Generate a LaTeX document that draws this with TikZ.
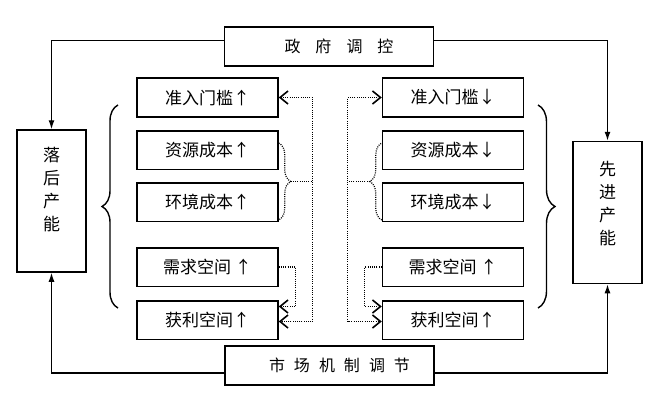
\documentclass[tikz,border=0pt]{standalone}
\usepackage{fontspec}
\setmainfont{Noto Sans CJK SC}
\usetikzlibrary{arrows.meta, positioning, calc, decorations.pathreplacing}

\tikzset{
  smallbox/.style={draw, line width=1.5pt, minimum width=141pt, minimum height=38.5pt, inner sep=0pt, font=\fontsize{17}{20}\selectfont},
  sidebox/.style={draw, line width=1.5pt, minimum width=69pt, minimum height=142pt, inner sep=0pt},
  sidetext/.style={font=\fontsize{17}{23}\selectfont, align=center},
  ctrlbox/.style={draw, line width=1.5pt, minimum width=209pt, minimum height=39pt, inner sep=0pt, font=\fontsize{16}{19}\selectfont},
  mainline/.style={line width=1.3pt, -{Latex[length=9pt,width=6pt]}},
  dotline/.style={line width=1.2pt, dash pattern=on 1pt off 1.2pt},
  barbtip/.style={dotline, arrows={-{Straight Barb[length=8pt,width=13pt,line width=1.6pt]}}},
  barbboth/.style={dotline, arrows={{Straight Barb[length=8pt,width=13pt,line width=1.6pt]}-{Straight Barb[length=8pt,width=13pt,line width=1.6pt]}}},
}

\begin{document}
\begin{tikzpicture}[x=1pt, y=-1pt]
  \useasboundingbox (0,0) rectangle (655,401);

  % control boxes
  \node[ctrlbox] (zhengfu) at (329,46.5) {\hspace*{20pt}政\hspace{15pt}府\hspace{15pt}调\hspace{15pt}控};
  \node[ctrlbox] (shichang) at (329.5,365.5) {\hspace*{20pt}市\hspace{9pt}场\hspace{9pt}机\hspace{9pt}制\hspace{9pt}调\hspace{9pt}节};

  % capacity boxes
  \node[sidebox, label={[sidetext, yshift=11pt]center:落\\后\\产\\能}] (luohou) at (51.5,201) {};
  \node[sidebox, label={[sidetext, yshift=8.5pt]center:先\\进\\产\\能}] (xianjin) at (607.5,212.5) {};

  % left column
  \node[smallbox] (lzhunru) at (207.5,97.5) {准入门槛↑};
  \node[smallbox, below=12.5pt of lzhunru] (lziyuan) {资源成本↑};
  \node[smallbox, below=12pt of lziyuan] (lhuanjing) {环境成本↑};
  \node[smallbox, below=25pt of lhuanjing] (lxuqiu) {需求空间 ↑};
  \node[smallbox, below=13pt of lxuqiu] (lhuoli) {获利空间↑};

  % right column
  \node[smallbox, right=103pt of lzhunru] (rzhunru) {准入门槛↓};
  \node[smallbox, right=103pt of lziyuan] (rziyuan) {资源成本↓};
  \node[smallbox, right=103pt of lhuanjing] (rhuanjing) {环境成本↓};
  \node[smallbox, right=103pt of lxuqiu] (rxuqiu) {需求空间 ↑};
  \node[smallbox, right=103pt of lhuoli] (rhuoli) {获利空间↑};

  % regulation lines
  \draw[mainline] ([yshift=6pt]zhengfu.west) -| (luohou.north);
  \draw[mainline] ([yshift=6pt]zhengfu.east) -| (xianjin.north);
  \draw[mainline] ([yshift=-7.5pt]shichang.west) -| (luohou.south);
  \draw[mainline] ([yshift=-7.5pt]shichang.east) -| (xianjin.south);

  % big braces
  \draw[line width=1.4pt, decorate, decoration={brace, amplitude=16pt}] (118,308) -- (118,105);
  \draw[line width=1.4pt, decorate, decoration={brace, amplitude=17pt}] (538,105) -- (538,308);

  % dotted braces and links, left
  \draw[dotline, decorate, decoration={brace, amplitude=12pt}] ([yshift=-13pt]lziyuan.north east) -- ([yshift=2pt]lhuanjing.south east) coordinate[midway, xshift=12pt] (ltip);
  \coordinate (lbus) at ([xshift=22pt]ltip);
  \draw[dotline] (ltip) -- (lbus);
  \draw[barbboth] (lzhunru.east) -| (lbus) |- ([yshift=-1.5pt]lhuoli.east);
  \draw[barbtip] (lxuqiu.east) -- ++(17,0) |- ([yshift=13.5pt]lhuoli.east);

  % dotted braces and links, right
  \draw[dotline, decorate, decoration={brace, amplitude=12pt}] ([yshift=2pt]rhuanjing.south west) -- ([yshift=-13pt]rziyuan.north west) coordinate[midway, xshift=-12pt] (rtip);
  \coordinate (rbus) at ([xshift=-22pt]rtip);
  \draw[dotline] (rtip) -- (rbus);
  \draw[barbboth] (rzhunru.west) -| (rbus) |- ([yshift=-1.5pt]rhuoli.west);
  \draw[barbtip] (rxuqiu.west) -- ++(-17,0) |- ([yshift=13.5pt]rhuoli.west);
\end{tikzpicture}
\end{document}
